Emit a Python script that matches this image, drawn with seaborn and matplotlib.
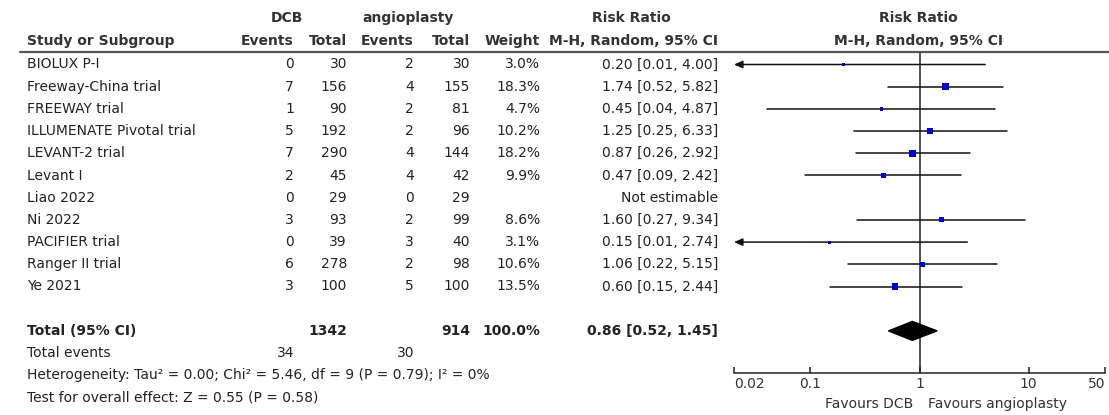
import numpy as np
import pandas as pd
import seaborn as sns
import matplotlib.pyplot as plt

# study data
studies = ["BIOLUX P-I", "Freeway-China trial", "FREEWAY trial", "ILLUMENATE Pivotal trial",
           "LEVANT-2 trial", "Levant I", "Liao 2022", "Ni 2022", "PACIFIER trial",
           "Ranger II trial", "Ye 2021"]
dcb_events = [0, 7, 1, 5, 7, 2, 0, 3, 0, 6, 3]
dcb_total = [30, 156, 90, 192, 290, 45, 29, 93, 39, 278, 100]
ang_events = [2, 4, 2, 2, 4, 4, 0, 2, 3, 2, 5]
ang_total = [30, 155, 81, 96, 144, 42, 29, 99, 40, 98, 100]
weight = [3.0, 18.3, 4.7, 10.2, 18.2, 9.9, np.nan, 8.6, 3.1, 10.6, 13.5]
rr = [0.20, 1.74, 0.45, 1.25, 0.87, 0.47, np.nan, 1.60, 0.15, 1.06, 0.60]
ci_low = [0.01, 0.52, 0.04, 0.25, 0.26, 0.09, np.nan, 0.27, 0.01, 0.22, 0.15]
ci_high = [4.00, 5.82, 4.87, 6.33, 2.92, 2.42, np.nan, 9.34, 2.74, 5.15, 2.44]

total_dcb, total_ang = 1342, 914
events_dcb, events_ang = 34, 30
pooled_rr, pooled_low, pooled_high = 0.86, 0.52, 1.45
heterogeneity = "Heterogeneity: Tau\u00b2 = 0.00; Chi\u00b2 = 5.46, df = 9 (P = 0.79); I\u00b2 = 0%"
overall = "Test for overall effect: Z = 0.55 (P = 0.58)"
xticks = [0.02, 0.1, 1, 10, 50]
xtick_labels = ["0.02", "0.1", "1", "10", "50"]

df = pd.DataFrame({"study": studies, "weight": weight, "rr": rr,
                   "low": ci_low, "high": ci_high})
df["row"] = np.arange(len(df))

sns.set_style("white")
plt.rcParams["font.family"] = ["DejaVu Sans"]
plt.rcParams["font.size"] = 10

W, H = 1109, 415
Y0, DY = 64.5, 22.2          # pixel y of first row and row pitch
fig = plt.figure(figsize=(W / 100, H / 100), dpi=100)

# overlay axes for the table, x in pixels, y in rows
tab = fig.add_axes([0, 0, 1, 1])
tab.set_xlim(0, W)
tab.set_ylim((H - Y0) / DY, -Y0 / DY)
tab.axis("off")

def row_of(px):
    return (px - Y0) / DY

txt = "#222222"
hdr = "#333333"
r1, r2 = row_of(18), row_of(41)
bold = dict(fontweight="bold", color=hdr, va="center")
tab.text(287, r1, "DCB", ha="center", **bold)
tab.text(408, r1, "angioplasty", ha="center", **bold)
tab.text(631, r1, "Risk Ratio", ha="center", **bold)
tab.text(918, r1, "Risk Ratio", ha="center", **bold)
tab.text(27, r2, "Study or Subgroup", ha="left", **bold)
tab.text(294, r2, "Events", ha="right", **bold)
tab.text(347, r2, "Total", ha="right", **bold)
tab.text(414, r2, "Events", ha="right", **bold)
tab.text(470, r2, "Total", ha="right", **bold)
tab.text(540, r2, "Weight", ha="right", **bold)
tab.text(718, r2, "M-H, Random, 95% CI", ha="right", **bold)
tab.text(918, r2, "M-H, Random, 95% CI", ha="center", **bold)
tab.plot([20, W], [row_of(52.5)] * 2, color="#555555", lw=1.6)

for i, s in enumerate(studies):
    kw = dict(va="center", color=txt)
    tab.text(27, i, s, ha="left", **kw)
    tab.text(294, i, str(dcb_events[i]), ha="right", **kw)
    tab.text(347, i, str(dcb_total[i]), ha="right", **kw)
    tab.text(414, i, str(ang_events[i]), ha="right", **kw)
    tab.text(470, i, str(ang_total[i]), ha="right", **kw)
    if np.isnan(rr[i]):
        tab.text(718, i, "Not estimable", ha="right", **kw)
    else:
        tab.text(540, i, f"{weight[i]:.1f}%", ha="right", **kw)
        tab.text(718, i, f"{rr[i]:.2f} [{ci_low[i]:.2f}, {ci_high[i]:.2f}]", ha="right", **kw)

rt = len(studies) + 1
tb = dict(va="center", color=txt, fontweight="bold")
tab.text(27, rt, "Total (95% CI)", ha="left", **tb)
tab.text(347, rt, str(total_dcb), ha="right", **tb)
tab.text(470, rt, str(total_ang), ha="right", **tb)
tab.text(540, rt, "100.0%", ha="right", **tb)
tab.text(718, rt, f"{pooled_rr:.2f} [{pooled_low:.2f}, {pooled_high:.2f}]", ha="right", **tb)
tn = dict(va="center", color=txt)
tab.text(27, rt + 1, "Total events", ha="left", **tn)
tab.text(294, rt + 1, str(events_dcb), ha="right", **tn)
tab.text(414, rt + 1, str(events_ang), ha="right", **tn)
tab.text(27, rt + 2, heterogeneity, ha="left", **tn)
tab.text(27, rt + 3, overall, ha="left", **tn)
tab.text(913, row_of(404), "Favours DCB", ha="right", va="center", color="#333333")
tab.text(928, row_of(404), "Favours angioplasty", ha="left", va="center", color="#333333")

# forest plot axes
left, right, top, bottom = 734, 1105, 53, 373
ax = fig.add_axes([left / W, (H - bottom) / H, (right - left) / W, (bottom - top) / H])
ax.set_facecolor("none")
ax.set_xscale("log")
ax.set_xlim(xticks[0], xticks[-1])
ax.set_ylim(row_of(bottom), row_of(top))
ax.axvline(1, color="#222222", lw=1.1, zorder=1)

for _, r in df.dropna().iterrows():
    if r["low"] < xticks[0]:
        ax.annotate("", xy=(xticks[0], r["row"]), xytext=(r["high"], r["row"]),
                    arrowprops=dict(arrowstyle="-|>,head_length=0.5,head_width=0.22",
                                    color="#111111", lw=1.1, shrinkA=0, shrinkB=0),
                    annotation_clip=False)
    else:
        ax.plot([r["low"], r["high"]], [r["row"]] * 2, color="#111111", lw=1.1, zorder=2)

wmin = df["weight"].min()
wmax = df["weight"].max()
k = 1.4
sns.scatterplot(data=df.dropna(), x="rr", y="row", size="weight", marker="s",
                sizes=(k * wmin, k * wmax), size_norm=(wmin, wmax),
                color="#0000cc", edgecolor="none", legend=False, ax=ax, zorder=3)

hh = 9.5 / DY
ax.fill([pooled_low, pooled_rr, pooled_high, pooled_rr], [rt, rt - hh, rt, rt + hh],
        color="black", zorder=3)

for sp in ["top", "left", "right"]:
    ax.spines[sp].set_visible(False)
ax.spines["bottom"].set_color("#222222")
ax.spines["bottom"].set_linewidth(1.1)
ax.set_xticks(xticks)
ax.set_xticklabels(xtick_labels)
ax.minorticks_off()
ax.tick_params(axis="x", bottom=True, direction="in", length=4.5, width=1.1, color="#222222",
               labelcolor="#333333", labelsize=10, pad=3)
labels = ax.get_xticklabels()
labels[0].set_horizontalalignment("left")
labels[-1].set_horizontalalignment("right")
ax.set_yticks([])
ax.set_xlabel("")
ax.set_ylabel("")

fig.savefig("out.png", dpi=100)
